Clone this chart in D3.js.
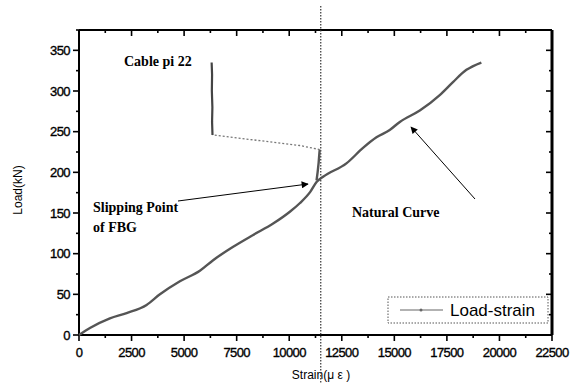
<!DOCTYPE html>
<html><head><meta charset="utf-8">
<script src="https://cdn.jsdelivr.net/npm/d3@7"></script>
<style>body{margin:0;background:#fff}svg{display:block}</style>
</head><body><svg id="c" width="577" height="383"></svg>
<script>
// Natural curve (Load-strain)
const naturalStrain = [0, 520, 1470, 2265, 3215, 3850, 4800, 5750, 6380, 7335, 8285, 9235, 10030, 10500, 11000, 11300, 11610, 12720, 13510, 14150, 14780, 15260, 16210, 17160, 17790, 18430, 19140];
const naturalLoad   = [0, 8.6, 20.5, 27, 37, 50, 66, 79, 92, 108.5, 123, 137, 151.5, 162, 176, 188, 194.5, 211, 230, 243, 252, 262, 276, 295, 311, 326, 335];
// FBG branch after slipping point
const fbgStrain = [11300, 11350, 11400, 11430, 11450];
const fbgLoad   = [190, 200, 212, 222, 228];
// jump (sparse points) back to cable reading
const jumpStrain = [11450, 10500, 6350];
const jumpLoad   = [228, 233, 246];
// cable pi 22 vertical
const cableStrain = [6350, 6330, 6345, 6320, 6330, 6310];
const cableLoad   = [246, 262, 280, 300, 320, 335];
const slipStrain = 11500;
const xTicks = [0, 2500, 5000, 7500, 10000, 12500, 15000, 17500, 20000, 22500];
const yTicks = [0, 50, 100, 150, 200, 250, 300, 350];
const xMinor = d3.range(0, 22501, 1250);
const yMinor = d3.range(0, 376, 25);

const svg = d3.select('#c');
const L = 79, R = 552, T = 30, B = 335;
const x = d3.scaleLinear().domain([0, 22500]).range([L, R]);
const y = d3.scaleLinear().domain([0, 375]).range([B, T]);

const g = svg.append('g');
g.selectAll('.bx').data(xMinor).enter().append('line')
  .attr('x1', d => x(d)).attr('x2', d => x(d)).attr('y1', B).attr('y2', d => B + (xTicks.includes(d) ? 6 : 3))
  .attr('stroke', '#000').attr('stroke-width', 1.6);
g.selectAll('.tx').data(xMinor).enter().append('line')
  .attr('x1', d => x(d)).attr('x2', d => x(d)).attr('y1', T).attr('y2', d => T + (xTicks.includes(d) ? 6 : 3))
  .attr('stroke', '#000').attr('stroke-width', 1.6);
g.selectAll('.ly').data(yMinor).enter().append('line')
  .attr('y1', d => y(d)).attr('y2', d => y(d)).attr('x1', L).attr('x2', d => L - (yTicks.includes(d) ? 6 : 3))
  .attr('stroke', '#000').attr('stroke-width', 1.6);
g.selectAll('.ry').data(yMinor).enter().append('line')
  .attr('y1', d => y(d)).attr('y2', d => y(d)).attr('x1', R).attr('x2', d => R - (yTicks.includes(d) ? 6 : 3))
  .attr('stroke', '#000').attr('stroke-width', 1.6);

svg.append('line').attr('x1', L).attr('x2', R).attr('y1', B).attr('y2', B).attr('stroke', '#000').attr('stroke-width', 2);
svg.append('line').attr('x1', L).attr('x2', R).attr('y1', T).attr('y2', T).attr('stroke', '#000').attr('stroke-width', 2);
svg.append('line').attr('x1', L).attr('x2', L).attr('y1', T).attr('y2', B).attr('stroke', '#000').attr('stroke-width', 2);
svg.append('line').attr('x1', R).attr('x2', R).attr('y1', T).attr('y2', B).attr('stroke', '#000').attr('stroke-width', 3);

const sans = 'Arial, Liberation Sans, sans-serif';
svg.selectAll('.xl').data(xTicks).enter().append('text')
  .attr('x', d => x(d)).attr('y', 357).attr('text-anchor', 'middle')
  .attr('font-family', sans).attr('font-size', 13).attr('letter-spacing', -0.6)
  .attr('stroke', '#000').attr('stroke-width', 0.35)
  .text(d => d);
svg.selectAll('.yl').data(yTicks).enter().append('text')
  .attr('x', 70).attr('y', d => y(d) + 4.5).attr('text-anchor', 'end')
  .attr('font-family', sans).attr('font-size', 13).attr('letter-spacing', -0.6)
  .attr('stroke', '#000').attr('stroke-width', 0.35)
  .text(d => d);

svg.append('text').attr('transform', 'translate(22,190) rotate(-90)').attr('text-anchor', 'middle')
  .attr('font-family', sans).attr('font-size', 12).text('Load(kN)');
svg.append('text').attr('x', 321).attr('y', 379).attr('text-anchor', 'middle')
  .attr('font-family', sans).attr('font-size', 12).text('Strain(μ ε )');

svg.append('line').attr('x1', x(slipStrain)).attr('x2', x(slipStrain)).attr('y1', 6).attr('y2', 383)
  .attr('stroke', '#333').attr('stroke-width', 1.2).attr('stroke-dasharray', '1.5,1.5');

const line = d3.line().x(d => x(d[0])).y(d => y(d[1])).curve(d3.curveMonotoneX);
const lineP = d3.line().x(d => x(d[0])).y(d => y(d[1]));
const nat = naturalStrain.map((s, i) => [s, naturalLoad[i]]);
const fbg = fbgStrain.map((s, i) => [s, fbgLoad[i]]);
const jump = jumpStrain.map((s, i) => [s, jumpLoad[i]]);
const cab = cableStrain.map((s, i) => [s, cableLoad[i]]);
svg.append('path').attr('d', line(nat)).attr('fill', 'none').attr('stroke', '#555').attr('stroke-width', 2.4);
svg.append('path').attr('d', lineP(fbg)).attr('fill', 'none').attr('stroke', '#555').attr('stroke-width', 2.4);
svg.append('path').attr('d', lineP(jump)).attr('fill', 'none').attr('stroke', '#777').attr('stroke-width', 1.3).attr('stroke-dasharray', '2,2');
svg.append('path').attr('d', lineP(cab)).attr('fill', 'none').attr('stroke', '#444').attr('stroke-width', 2.2);

const serif = 'Times New Roman, Liberation Serif, serif';
svg.append('text').attr('x', 124).attr('y', 66).attr('font-family', serif).attr('font-weight', 'bold').attr('font-size', 14).text('Cable pi 22');
svg.append('text').attr('x', 93).attr('y', 212).attr('font-family', serif).attr('font-weight', 'bold').attr('font-size', 14).text('Slipping Point');
svg.append('text').attr('x', 93).attr('y', 232).attr('font-family', serif).attr('font-weight', 'bold').attr('font-size', 14).text('of FBG');
svg.append('text').attr('x', 352).attr('y', 217).attr('font-family', serif).attr('font-weight', 'bold').attr('font-size', 14).text('Natural Curve');

const defs = svg.append('defs');
defs.append('marker').attr('id', 'ah').attr('viewBox', '0 0 10 10').attr('refX', 9).attr('refY', 5)
  .attr('markerWidth', 9).attr('markerHeight', 7).attr('markerUnits', 'userSpaceOnUse').attr('orient', 'auto')
  .append('path').attr('d', 'M0,0L10,5L0,10z').attr('fill', '#000');
svg.append('line').attr('x1', 178).attr('y1', 201).attr('x2', 308).attr('y2', 184).attr('stroke', '#000').attr('stroke-width', 1).attr('marker-end', 'url(#ah)');
svg.append('line').attr('x1', 475).attr('y1', 199).attr('x2', 411).attr('y2', 127).attr('stroke', '#000').attr('stroke-width', 1).attr('marker-end', 'url(#ah)');

svg.append('rect').attr('x', 388).attr('y', 297).attr('width', 160).attr('height', 26)
  .attr('fill', '#fff').attr('stroke', '#555').attr('stroke-width', 1).attr('stroke-dasharray', '1.5,1.5');
svg.append('line').attr('x1', 400).attr('x2', 443).attr('y1', 310).attr('y2', 310).attr('stroke', '#666').attr('stroke-width', 1.2);
svg.append('circle').attr('cx', 421).attr('cy', 310).attr('r', 1.5).attr('fill', '#666');
svg.append('text').attr('x', 450).attr('y', 316).attr('font-family', sans).attr('font-size', 17).text('Load-strain');
</script></body></html>
